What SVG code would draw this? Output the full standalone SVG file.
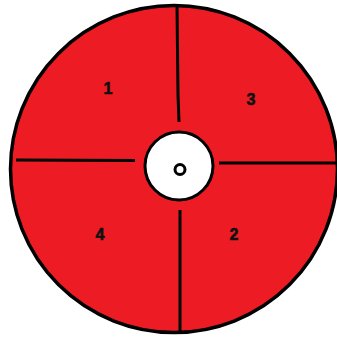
<svg xmlns="http://www.w3.org/2000/svg" width="337" height="339" viewBox="0 0 337 339">
<style>
.ln{stroke:#000;stroke-width:3;fill:none;stroke-linecap:butt}
.lbl{font-family:"Liberation Sans",Arial,sans-serif;font-weight:bold;font-size:16px;fill:#111;stroke:#111;stroke-width:0.6;text-anchor:middle}
</style>
<rect width="337" height="339" fill="#fff"/>
<g id="disk">
<circle cx="174" cy="169" r="163.5" fill="#ED1C24" stroke="#000" stroke-width="3.5"/>
</g>
<g id="connectors">
<path class="ln" d="M177 6 L178 95 L179 122"/>
<path class="ln" d="M16 160 L135 160.5"/>
<path class="ln" d="M219 163 L337 163"/>
<path class="ln" d="M180 210 L180 333"/>
</g>
<g id="hub">
<circle cx="179" cy="166" r="34" fill="#fff" stroke="#000" stroke-width="3"/>
<circle cx="180" cy="169.5" r="5" fill="#fff" stroke="#000" stroke-width="3"/>
</g>
<g id="q1"><text class="lbl" x="108" y="94">1</text></g>
<g id="q3"><text class="lbl" x="251" y="105">3</text></g>
<g id="q4"><text class="lbl" x="100" y="240">4</text></g>
<g id="q2"><text class="lbl" x="234" y="240">2</text></g>
</svg>
